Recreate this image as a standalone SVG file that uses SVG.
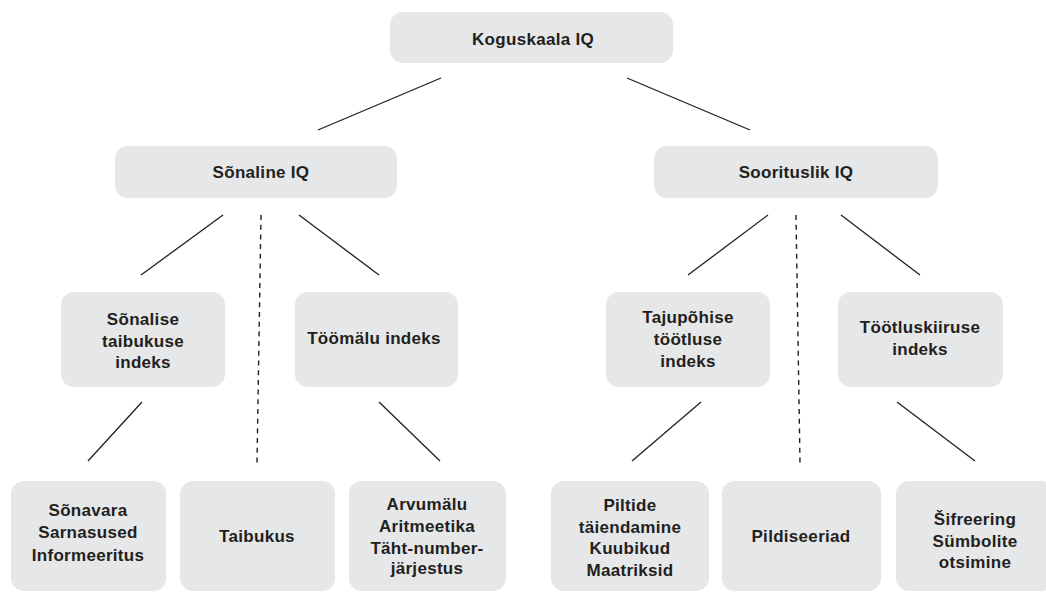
<svg xmlns="http://www.w3.org/2000/svg" width="1046" height="604" viewBox="0 0 1046 604">
<style>
.box{fill:#e6e7e8;}
.t{font-family:"Liberation Sans",Arial,sans-serif;font-weight:bold;font-size:17px;fill:#231f20;text-anchor:middle;letter-spacing:0.3px;}
.ln{stroke:#231f20;stroke-width:1.3;fill:none;}
.dash{stroke:#231f20;stroke-width:1.4;fill:none;stroke-dasharray:5 4.7;}
</style>
<rect width="1046" height="604" fill="#ffffff"/>
<g id="connectors">
<line class="ln" x1="441" y1="78" x2="318" y2="130"/>
<line class="ln" x1="627" y1="78" x2="750" y2="130"/>
<line class="ln" x1="223" y1="215" x2="141" y2="275"/>
<line class="dash" x1="261" y1="215" x2="257" y2="463"/>
<line class="ln" x1="299" y1="215" x2="379" y2="275"/>
<line class="ln" x1="768" y1="215" x2="688" y2="275"/>
<line class="dash" x1="796" y1="215" x2="800" y2="463"/>
<line class="ln" x1="841" y1="215" x2="920" y2="275"/>
<line class="ln" x1="142" y1="402" x2="88" y2="461"/>
<line class="ln" x1="379" y1="402" x2="440" y2="461"/>
<line class="ln" x1="701" y1="402" x2="632" y2="461"/>
<line class="ln" x1="897" y1="402" x2="975" y2="461"/>
</g>
<g id="n-koguskaala">
<rect class="box" x="390" y="12" width="283" height="51" rx="13"/>
<text class="t" x="533" y="45">Koguskaala IQ</text>
</g>
<g id="n-sonaline">
<rect class="box" x="115" y="146" width="282" height="52" rx="13"/>
<text class="t" x="261" y="178">Sõnaline IQ</text>
</g>
<g id="n-sooritus">
<rect class="box" x="654" y="146" width="284" height="52" rx="13"/>
<text class="t" x="796" y="178">Soorituslik IQ</text>
</g>
<g id="n-taibukuse">
<rect class="box" x="61" y="292" width="164" height="95" rx="13"/>
<text class="t" x="143" y="325">Sõnalise</text>
<text class="t" x="143" y="347">taibukuse</text>
<text class="t" x="143" y="368">indeks</text>
</g>
<g id="n-toomalu">
<rect class="box" x="295" y="292" width="163" height="95" rx="13"/>
<text class="t" x="374" y="344">Töömälu indeks</text>
</g>
<g id="n-tajupohise">
<rect class="box" x="606" y="292" width="164" height="95" rx="13"/>
<text class="t" x="688" y="323">Tajupõhise</text>
<text class="t" x="688" y="345">töötluse</text>
<text class="t" x="688" y="367">indeks</text>
</g>
<g id="n-tootluskiiruse">
<rect class="box" x="838" y="292" width="165" height="95" rx="13"/>
<text class="t" x="920" y="333">Töötluskiiruse</text>
<text class="t" x="920" y="355">indeks</text>
</g>
<g id="n-sonavara">
<rect class="box" x="11" y="481" width="155" height="110" rx="13"/>
<text class="t" x="88" y="516">Sõnavara</text>
<text class="t" x="88" y="538">Sarnasused</text>
<text class="t" x="88" y="561">Informeeritus</text>
</g>
<g id="n-taibukus">
<rect class="box" x="180" y="481" width="155" height="110" rx="13"/>
<text class="t" x="257" y="542">Taibukus</text>
</g>
<g id="n-arvumalu">
<rect class="box" x="349" y="481" width="157" height="110" rx="13"/>
<text class="t" x="427" y="510">Arvumälu</text>
<text class="t" x="427" y="532">Aritmeetika</text>
<text class="t" x="427" y="554">Täht-number-</text>
<text class="t" x="427" y="574">järjestus</text>
</g>
<g id="n-piltide">
<rect class="box" x="551" y="481" width="158" height="110" rx="13"/>
<text class="t" x="630" y="511">Piltide</text>
<text class="t" x="630" y="533">täiendamine</text>
<text class="t" x="630" y="554">Kuubikud</text>
<text class="t" x="630" y="576">Maatriksid</text>
</g>
<g id="n-pildiseeriad">
<rect class="box" x="722" y="481" width="159" height="110" rx="13"/>
<text class="t" x="801" y="542">Pildiseeriad</text>
</g>
<g id="n-sifreering">
<rect class="box" x="896" y="481" width="158" height="110" rx="13"/>
<text class="t" x="975" y="525">Šifreering</text>
<text class="t" x="975" y="547">Sümbolite</text>
<text class="t" x="975" y="568">otsimine</text>
</g>
</svg>
